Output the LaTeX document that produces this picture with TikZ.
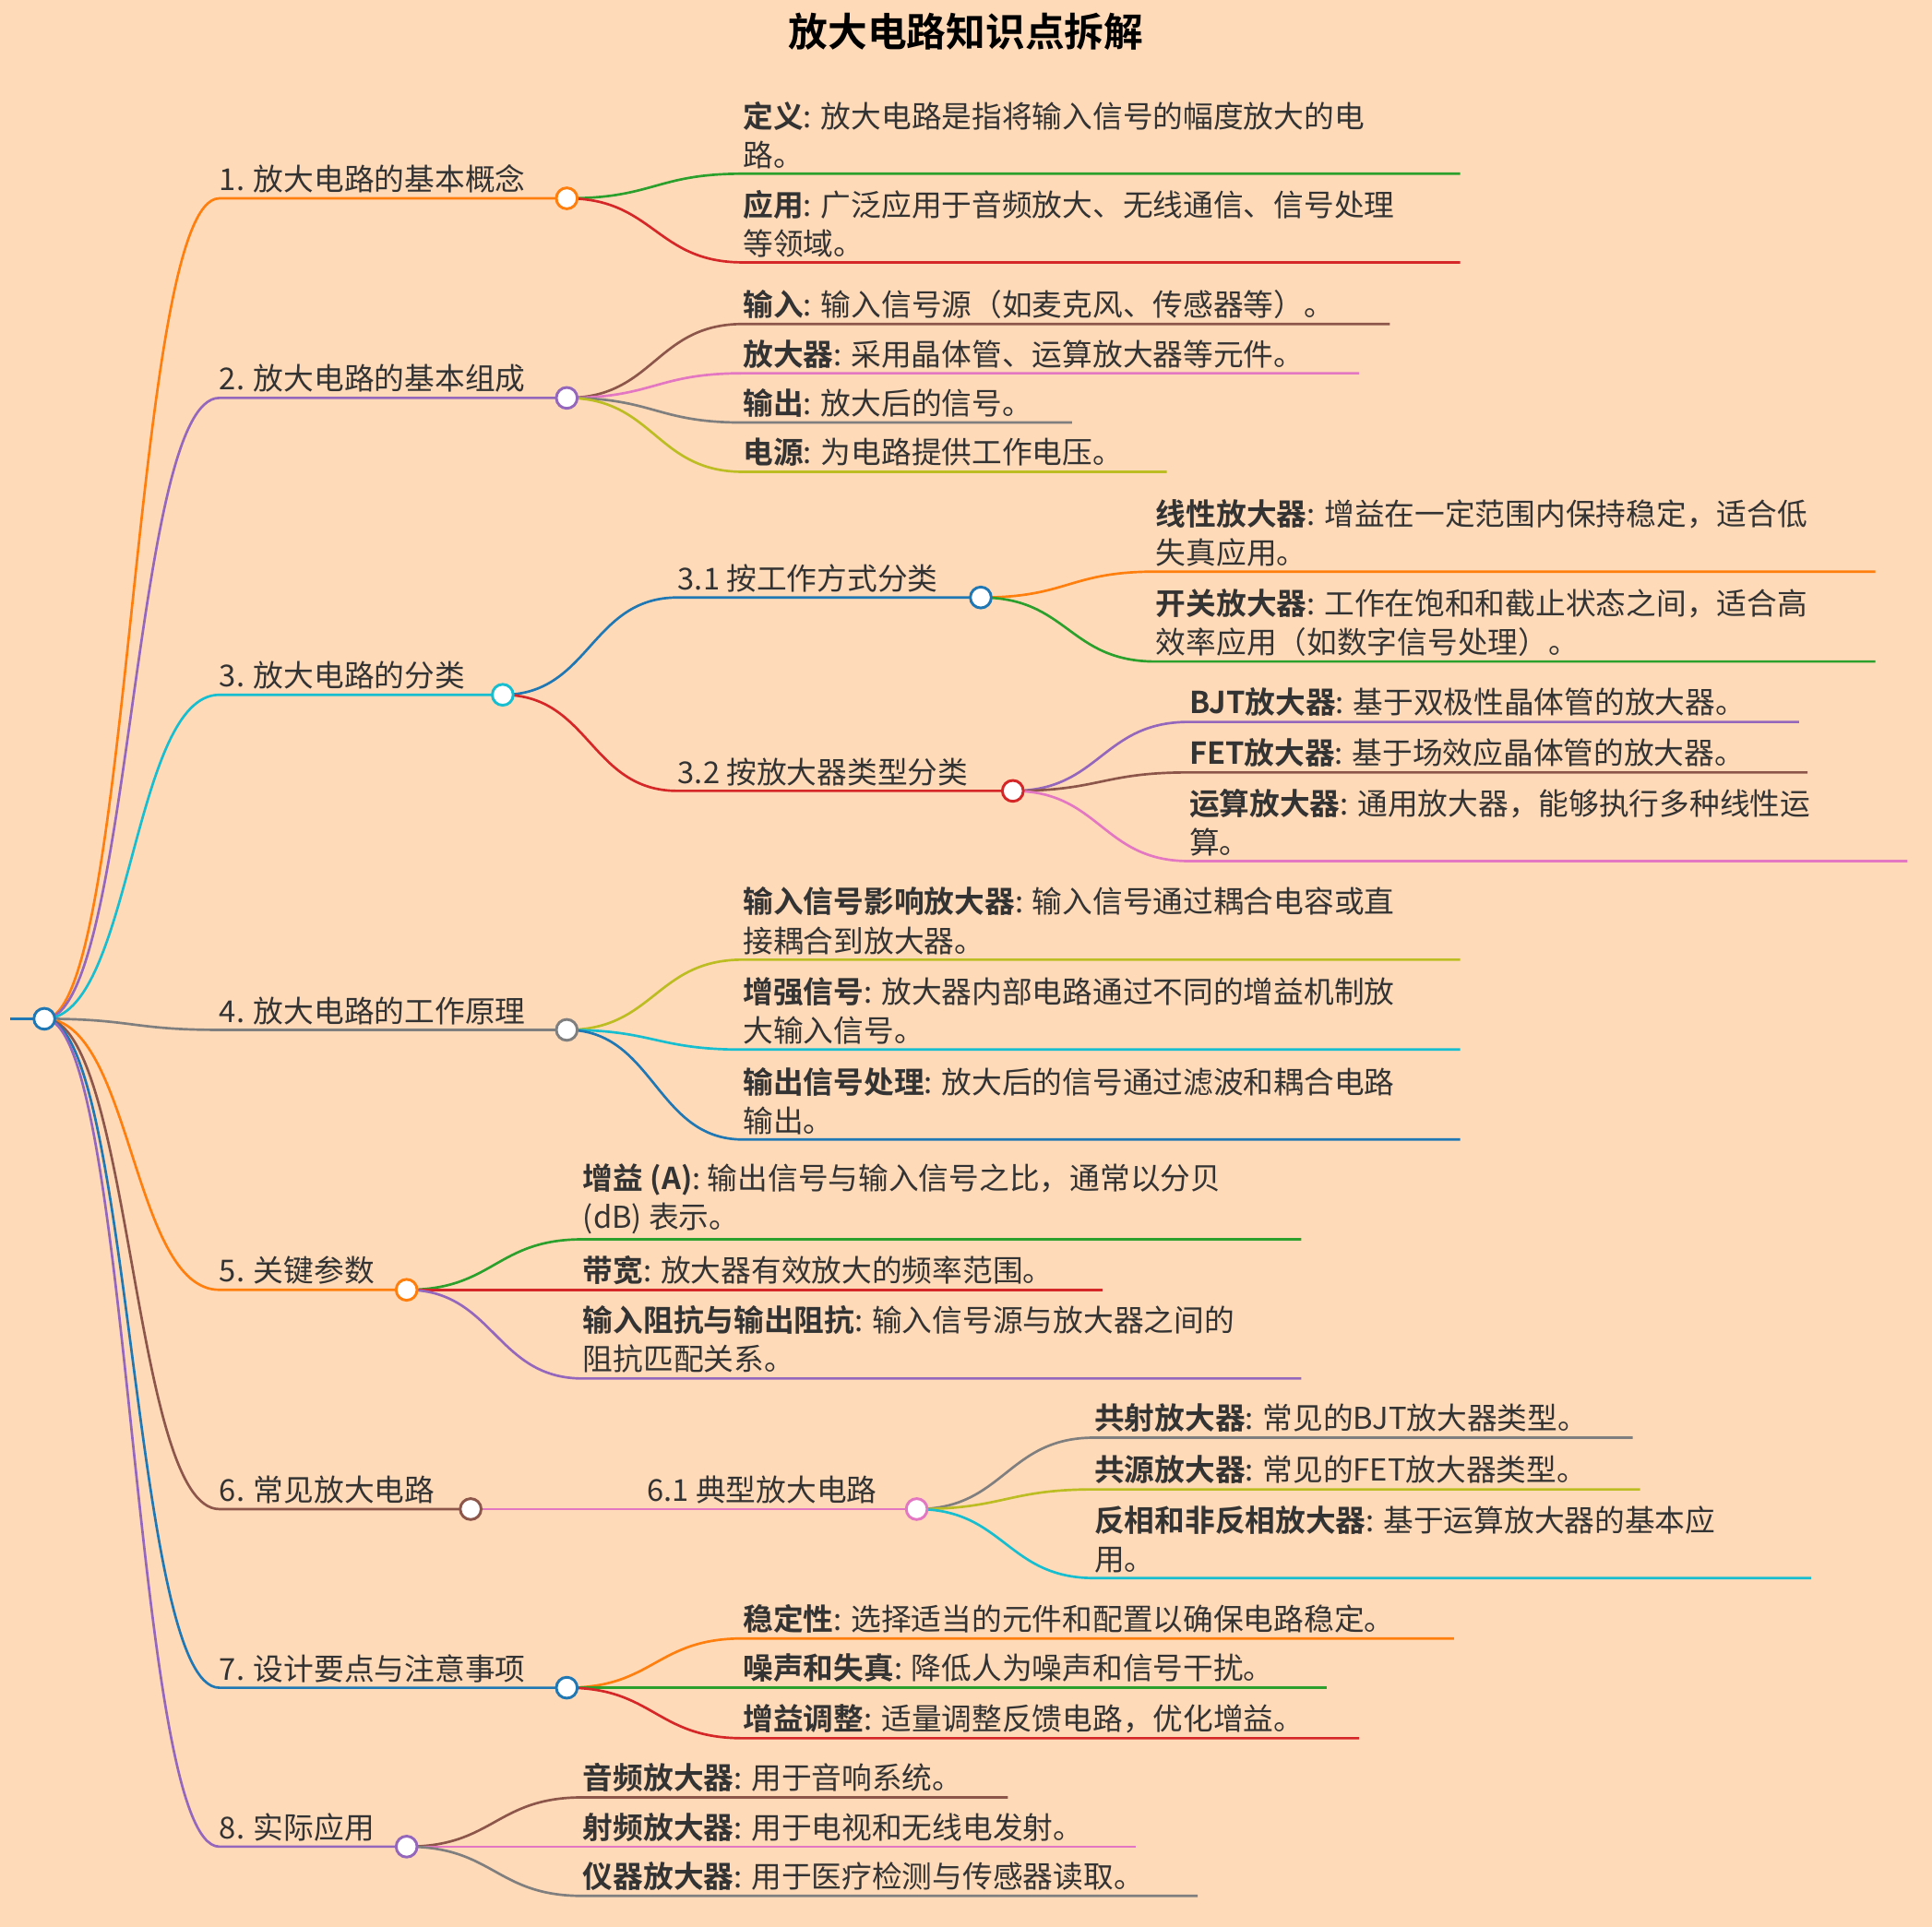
\documentclass[tikz,border=0pt]{standalone}
\usepackage{fontspec}
\setmainfont{Noto Sans CJK SC}[BoldFont={Noto Sans CJK SC Bold}]
\definecolor{bg}{HTML}{FFDAB9}
\definecolor{tx}{HTML}{333333}
\definecolor{cOr}{HTML}{FF7F0E}
\definecolor{cGr}{HTML}{2CA02C}
\definecolor{cRe}{HTML}{D62728}
\definecolor{cPu}{HTML}{9467BD}
\definecolor{cBr}{HTML}{8C564B}
\definecolor{cPi}{HTML}{E377C2}
\definecolor{cGy}{HTML}{7F7F7F}
\definecolor{cOl}{HTML}{BCBD22}
\definecolor{cCy}{HTML}{17BECF}
\definecolor{cBl}{HTML}{1F77B4}
\tikzset{
  conn/.style={line width=2pt},
  dot/.style={circle,draw,fill=white,line width=2.2pt,minimum size=17pt,inner sep=0pt},
  txt/.style={anchor=south west,inner sep=0pt,align=left,text=tx,font=\fontsize{24.5}{31.5}\selectfont},
}
% #1 parent node, #2 x0, #3 y, #4 xend, #5 color, #6 name, #7 text
\newcommand\mmleaf[7]{%
  \draw[conn,#5] (#1.center) .. controls +(71,0) and +(-71,0) .. (#2,#3) -- (#4,#3) coordinate (#6);
  \node[txt] (#6t) at (#2,#3-4) {#7};
}
\begin{document}
\begin{tikzpicture}[x=1pt,y=-1pt]
\fill[bg] (0,0) rectangle (1568,1564);
\useasboundingbox (0,0) rectangle (1568,1564);
\node[text=black,font=\fontsize{32}{36}\selectfont\bfseries] (title) at (784,26) {放大电路知识点拆解};
\coordinate (stub) at (8,827);
\coordinate (root) at (36,827);
\draw[conn,cBl] (stub) -- (root);
% level 1
\mmleaf{root}{178}{161}{460}{cOr}{b1}{1. 放大电路的基本概念}
\mmleaf{root}{178}{323}{460}{cPu}{b2}{2. 放大电路的基本组成}
\mmleaf{root}{178}{564}{408}{cCy}{b3}{3. 放大电路的分类}
\mmleaf{root}{178}{836}{460}{cGy}{b4}{4. 放大电路的工作原理}
\mmleaf{root}{178}{1047}{330}{cOr}{b5}{5. 关键参数}
\mmleaf{root}{178}{1225}{382}{cBr}{b6}{6. 常见放大电路}
\mmleaf{root}{178}{1370}{460}{cBl}{b7}{7. 设计要点与注意事项}
\mmleaf{root}{178}{1499}{330}{cPu}{b8}{8. 实际应用}
% 1
\mmleaf{b1}{603}{141}{1185}{cGr}{l11}{\textbf{定义}: 放大电路是指将输入信号的幅度放大的电\\路。}
\mmleaf{b1}{603}{213}{1185}{cRe}{l12}{\textbf{应用}: 广泛应用于音频放大、无线通信、信号处理\\等领域。}
% 2
\mmleaf{b2}{603}{263}{1128}{cBr}{l21}{\textbf{输入}: 输入信号源（如麦克风、传感器等）。}
\mmleaf{b2}{603}{303}{1103}{cPi}{l22}{\textbf{放大器}: 采用晶体管、运算放大器等元件。}
\mmleaf{b2}{603}{343}{870}{cGy}{l23}{\textbf{输出}: 放大后的信号。}
\mmleaf{b2}{603}{383}{947}{cOl}{l24}{\textbf{电源}: 为电路提供工作电压。}
% 3
\mmleaf{b3}{550}{485}{796}{cBl}{b31}{3.1 按工作方式分类}
\mmleaf{b3}{550}{642}{822}{cRe}{b32}{3.2 按放大器类型分类}
\mmleaf{b31}{938}{464}{1522}{cOr}{l311}{\textbf{线性放大器}: 增益在一定范围内保持稳定，适合低\\失真应用。}
\mmleaf{b31}{938}{537}{1522}{cGr}{l312}{\textbf{开关放大器}: 工作在饱和和截止状态之间，适合高\\效率应用（如数字信号处理）。}
\mmleaf{b32}{965}{586}{1460}{cPu}{l321}{\textbf{BJT放大器}: 基于双极性晶体管的放大器。}
\mmleaf{b32}{965}{627}{1467}{cBr}{l322}{\textbf{FET放大器}: 基于场效应晶体管的放大器。}
\mmleaf{b32}{965}{699}{1548}{cPi}{l323}{\textbf{运算放大器}: 通用放大器，能够执行多种线性运\\算。}
% 4
\mmleaf{b4}{603}{779}{1185}{cOl}{l41}{\textbf{输入信号影响放大器}: 输入信号通过耦合电容或直\\接耦合到放大器。}
\mmleaf{b4}{603}{852}{1185}{cCy}{l42}{\textbf{增强信号}: 放大器内部电路通过不同的增益机制放\\大输入信号。}
\mmleaf{b4}{603}{925}{1185}{cBl}{l43}{\textbf{输出信号处理}: 放大后的信号通过滤波和耦合电路\\输出。}
% 5
\mmleaf{b5}{473}{1006}{1056}{cGr}{l51}{\textbf{增益 (A)}: 输出信号与输入信号之比，通常以分贝\\(dB) 表示。}
\mmleaf{b5}{473}{1047}{895}{cRe}{l52}{\textbf{带宽}: 放大器有效放大的频率范围。}
\mmleaf{b5}{473}{1119}{1056}{cPu}{l53}{\textbf{输入阻抗与输出阻抗}: 输入信号源与放大器之间的\\阻抗匹配关系。}
% 6
\mmleaf{b6}{525}{1225}{744}{cPi}{b61}{6.1 典型放大电路}
\mmleaf{b61}{888}{1167}{1325}{cGy}{l611}{\textbf{共射放大器}: 常见的BJT放大器类型。}
\mmleaf{b61}{888}{1209}{1331}{cOl}{l612}{\textbf{共源放大器}: 常见的FET放大器类型。}
\mmleaf{b61}{888}{1281}{1470}{cCy}{l613}{\textbf{反相和非反相放大器}: 基于运算放大器的基本应\\用。}
% 7
\mmleaf{b7}{603}{1330}{1180}{cOr}{l71}{\textbf{稳定性}: 选择适当的元件和配置以确保电路稳定。}
\mmleaf{b7}{603}{1370}{1077}{cGr}{l72}{\textbf{噪声和失真}: 降低人为噪声和信号干扰。}
\mmleaf{b7}{603}{1411}{1103}{cRe}{l73}{\textbf{增益调整}: 适量调整反馈电路，优化增益。}
% 8
\mmleaf{b8}{473}{1459}{818}{cBr}{l81}{\textbf{音频放大器}: 用于音响系统。}
\mmleaf{b8}{473}{1499}{922}{cPi}{l82}{\textbf{射频放大器}: 用于电视和无线电发射。}
\mmleaf{b8}{473}{1539}{972}{cGy}{l83}{\textbf{仪器放大器}: 用于医疗检测与传感器读取。}
% dots
\node[dot,draw=cBl] (rootdot) at (root) {};
\node[dot,draw=cOr] at (b1) {};
\node[dot,draw=cPu] at (b2) {};
\node[dot,draw=cCy] at (b3) {};
\node[dot,draw=cGy] at (b4) {};
\node[dot,draw=cOr] at (b5) {};
\node[dot,draw=cBr] at (b6) {};
\node[dot,draw=cBl] at (b7) {};
\node[dot,draw=cPu] at (b8) {};
\node[dot,draw=cBl] at (b31) {};
\node[dot,draw=cRe] at (b32) {};
\node[dot,draw=cPi] at (b61) {};
\end{tikzpicture}
\end{document}
